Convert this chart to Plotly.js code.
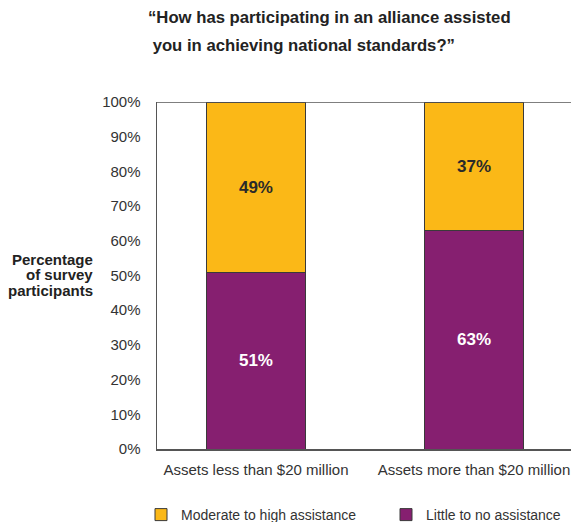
<!DOCTYPE html>
<html>
<head>
<meta charset="utf-8">
<script src="https://cdn.plot.ly/plotly-3.0.1.min.js"></script>
<style>html,body{margin:0;padding:0;overflow:hidden;background:#fff;}</style>
</head>
<body>
<div id="chart" style="width:571px;height:522px;"></div>
<script>
const categories = ["Assets less than $20 million", "Assets more than $20 million"];
const littleToNo = [51, 63];
const moderateToHigh = [49, 37];
const seriesNames = ["Little to no assistance", "Moderate to high assistance"];
const yTickVals = [0, 10, 20, 30, 40, 50, 60, 70, 80, 90, 100];
const titleLines = ["“How has participating in an alliance assisted", " you in achieving national standards?”"];
const yTitleLines = ["Percentage", "of survey", "participants"];

const FONT = '"Liberation Sans", Arial, Helvetica, sans-serif';
const PURPLE = '#861F70';
const YELLOW = '#FBB817';
const OUTLINE = '#3a3a3a';

const traces = [
  {
    type: 'bar', name: seriesNames[0], x: categories, y: littleToNo,
    width: 0.45, legend: 'legend2',
    marker: {color: PURPLE, line: {color: OUTLINE, width: 1}},
    text: littleToNo.map(v => v + '%'), textposition: 'inside', insidetextanchor: 'middle',
    textfont: {family: FONT, size: 17, color: '#ffffff', weight: 'bold'},
    hoverinfo: 'none'
  },
  {
    type: 'bar', name: seriesNames[1], x: categories, y: moderateToHigh,
    width: 0.45, legend: 'legend',
    marker: {color: YELLOW, line: {color: OUTLINE, width: 1}},
    text: moderateToHigh.map(v => v + '%'), textposition: 'inside', insidetextanchor: 'middle',
    textfont: {family: FONT, size: 17, color: '#2a2a2a', weight: 'bold'},
    hoverinfo: 'none'
  }
];

const annotations = [];
titleLines.forEach((t, i) => annotations.push({
  text: t, xref: 'paper', yref: 'paper', x: (146 - 157) / 414, y: 1 + (102 - (18 + 27 * i)) / 347,
  xanchor: 'left', yanchor: 'middle', showarrow: false, align: 'left',
  font: {family: FONT, size: 16.7, color: '#222222', weight: 'bold'}
}));
yTitleLines.forEach((t, i) => annotations.push({
  text: t, xref: 'paper', yref: 'paper', x: (95 - 157) / 414, y: (449 - (259 + 15.5 * i)) / 347,
  xanchor: 'right', yanchor: 'middle', showarrow: false, align: 'right',
  font: {family: FONT, size: 15, color: '#222222', weight: 'bold'}
}));

function legendAt(px) {
  return {
    orientation: 'h', xref: 'container', yref: 'container',
    x: px / 571, xanchor: 'left', y: 1 - 515 / 522, yanchor: 'middle',
    font: {family: FONT, size: 14, color: '#333333'},
    bgcolor: 'rgba(0,0,0,0)'
  };
}

const layout = {
  width: 571, height: 522,
  margin: {l: 157, r: 0, t: 102, b: 73, pad: 0},
  paper_bgcolor: '#ffffff', plot_bgcolor: '#ffffff',
  barmode: 'stack',
  showlegend: true,
  font: {family: FONT, color: '#333333'},
  xaxis: {
    range: [-0.454, 1.445], showgrid: false, zeroline: false,
    showline: true, linecolor: '#555555', linewidth: 1.5,
    ticks: '', tickfont: {family: FONT, size: 15, color: '#333333'},
    ticklabelstandoff: 6, fixedrange: true, automargin: false
  },
  yaxis: {
    range: [0, 100], tickvals: yTickVals, ticktext: yTickVals.map(v => v + '%'),
    showgrid: false, zeroline: false,
    showline: true, linecolor: '#555555', linewidth: 1.5,
    ticks: '', tickfont: {family: FONT, size: 15, color: '#333333'},
    ticklabelstandoff: 12, fixedrange: true, automargin: false
  },
  shapes: [{
    type: 'line', xref: 'paper', yref: 'y', x0: 0, x1: 1, y0: 100, y1: 100,
    line: {color: '#555555', width: 1.5}
  }],
  legend: legendAt(141),
  legend2: legendAt(386),
  annotations: annotations
};

Plotly.newPlot('chart', traces, layout, {displayModeBar: false, staticPlot: true});
</script>
</body>
</html>
